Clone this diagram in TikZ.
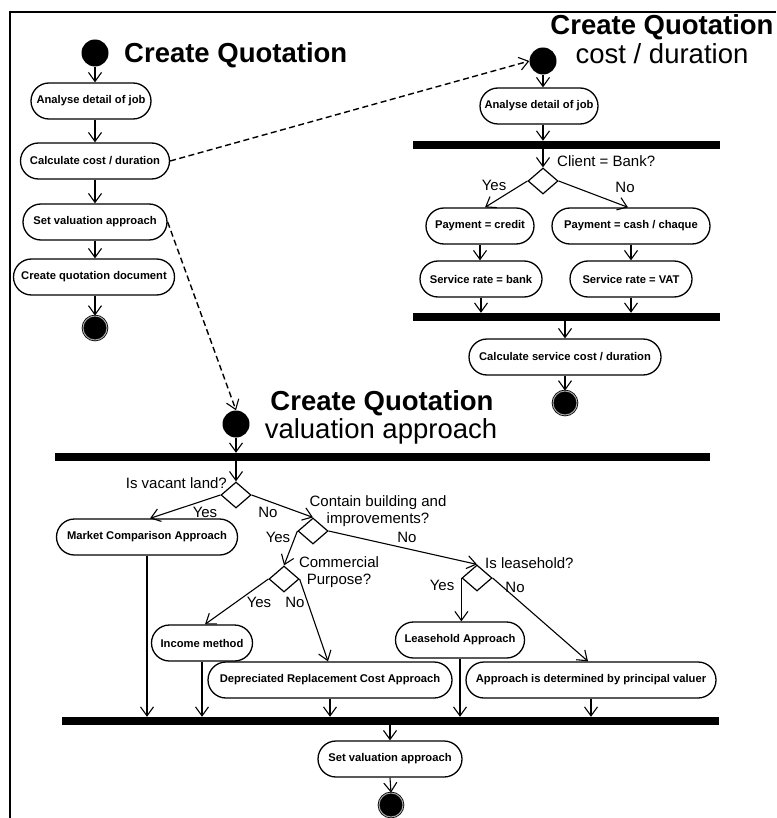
\documentclass[tikz,border=0pt]{standalone}
\usepackage{fontspec}
\setmainfont{Liberation Sans}
\usetikzlibrary{arrows.meta,shapes.geometric}

\tikzset{
  act/.style={draw, line width=1.3pt, rounded corners=18pt, minimum height=36pt,
    inner xsep=4pt, font=\fontsize{11.2}{13}\selectfont\bfseries},
  startnode/.style={circle, fill=black, minimum size=27pt, inner sep=0pt},
  endnode/.style={circle, fill=black, draw=black, line width=0.8pt, double=gray!70,
    double distance=1pt, minimum size=24pt, inner sep=0pt},
  syncbar/.style={fill=black, minimum height=8pt, inner sep=0pt},
  decision/.style={diamond, draw, line width=1.2pt, minimum width=30pt,
    minimum height=26pt, inner sep=0pt},
  flow/.style={line width=1.1pt, -{Straight Barb[length=9pt,width=13pt,line width=1.1pt]}},
  link/.style={flow, line width=1.4pt, dash pattern=on 6pt off 3.5pt},
  guard/.style={font=\fontsize{15}{17}\selectfont, inner sep=0pt},
  headline/.style={font=\fontsize{27.5}{30}\selectfont\bfseries, inner sep=0pt},
  subline/.style={font=\fontsize{27.5}{30}\selectfont, inner sep=0pt},
  framerule/.style={line width=2pt}
}

\begin{document}
\begin{tikzpicture}[x=1pt,y=-1pt]
\useasboundingbox (0,0) rectangle (776,818);

% outer frame
\draw[framerule] (10,818) -- (10,12) -- (776,12);

% ---- Create Quotation ----
\node[startnode] (s1) at (95,53) {};
\node[headline, anchor=base west] (t1) at (124,63) {Create Quotation};
\node[act, minimum width=120pt] (a1) at (91,101) {Analyse detail of job};
\node[act, minimum width=149pt] (cc) at (95,161) {Calculate cost / duration};
\node[act, minimum width=144pt] (sv) at (95,222) {Set valuation approach};
\node[act, minimum width=161pt] (cq) at (94,277) {Create quotation document};
\node[endnode] (e1) at (95,328) {};

\draw[flow] (s1.south) -- (s1.south |- a1.north);
\draw[flow] (cc.north |- a1.south) -- (cc.north);
\draw[flow] (cc.south) -- (cc.south |- sv.north);
\draw[flow] (sv.south) -- (sv.south |- cq.north);
\draw[flow] (e1.north |- cq.south) -- (e1.north);

% ---- Create Quotation: cost / duration ----
\node[headline, anchor=base] (t2) at (662,35) {Create Quotation};
\node[subline, anchor=base] (t2b) at (662,64) {cost / duration};
\node[startnode] (s2) at (543,61) {};
\node[act, minimum width=118pt] (an2) at (539,106) {Analyse detail of job};
\node[syncbar, minimum width=307pt] (bar1) at (566.5,145) {};
\node[decision] (d1) at (543,181) {};
\node[guard, anchor=west] (g1) at (557,161) {Client = Bank?};
\node[guard] (g1y) at (494,185) {Yes};
\node[guard] (g1n) at (625,187) {No};
\node[act, minimum width=108pt] (pc) at (480,226) {Payment = credit};
\node[act, minimum width=158pt] (pcash) at (631,226) {Payment = cash / chaque};
\node[act, minimum width=122pt] (sb) at (481,279) {Service rate = bank};
\node[act, minimum width=122pt] (sv2) at (631,279) {Service rate = VAT};
\node[syncbar, minimum width=307pt] (bar2) at (566.5,317) {};
\node[act, minimum width=192pt] (csc) at (565,357) {Calculate service cost / duration};
\node[endnode] (e2) at (565,403) {};

\draw[flow] (s2.south) -- (s2.south |- an2.north);
\draw[flow] (s2.south |- an2.south) -- (s2.south |- bar1.north);
\draw[flow] (d1.north |- bar1.south) -- (d1.north);
\draw[flow] (d1.west) -- ([xshift=5pt]pc.north);
\draw[flow] (d1.east) -- ([xshift=-3pt]pcash.north);
\draw[flow] (pc.south) -- (pc.south |- sb.north);
\draw[flow] (pcash.south) -- (pcash.south |- sv2.north);
\draw[flow] (sb.south) -- (sb.south |- bar2.north);
\draw[flow] (sv2.south) -- (sv2.south |- bar2.north);
\draw[flow] (csc.north |- bar2.south) -- (csc.north);
\draw[flow] (csc.south) -- (e2.north);

% ---- Create Quotation: valuation approach ----
\node[headline, anchor=base] (t3) at (382,410) {Create Quotation};
\node[subline, anchor=base] (t3b) at (381,438) {valuation approach};
\node[startnode] (s3) at (236,424) {};
\node[syncbar, minimum width=655pt] (bar3) at (382.5,457) {};
\node[decision] (vd) at (236,495) {};
\node[guard, anchor=east] (g2) at (227,483) {Is vacant land?};
\node[guard] (g2y) at (205,512) {Yes};
\node[guard] (g2n) at (268,512) {No};
\node[act, minimum width=181pt] (mca) at (147,537) {Market Comparison Approach};
\node[decision] (d2) at (313,531) {};
\node[guard, align=center] (g3) at (378,511) {Contain building and\\improvements?};
\node[guard] (g3y) at (278,537) {Yes};
\node[guard] (g3n) at (407,537) {No};
\node[decision] (d3) at (284,579) {};
\node[guard, align=center] (g4) at (339,572) {Commercial\\Purpose?};
\node[guard] (g4y) at (259,602) {Yes};
\node[guard] (g4n) at (295,602) {No};
\node[act, minimum width=101pt] (inc) at (202,643) {Income method};
\node[act, minimum width=244pt] (drc) at (330,680) {Depreciated Replacement Cost Approach};
\node[decision] (d4) at (477,578) {};
\node[guard, anchor=west] (g5) at (485,563) {Is leasehold?};
\node[guard] (g5y) at (442,585) {Yes};
\node[guard] (g5n) at (515,587) {No};
\node[act, minimum width=129pt] (lease) at (460,640) {Leasehold Approach};
\node[act, minimum width=250pt] (apv) at (591,680) {Approach is determined by principal valuer};
\node[syncbar, minimum width=657pt] (bar4) at (390.5,721) {};
\node[act, minimum width=144pt] (svb) at (390,759) {Set valuation approach};
\node[endnode] (e3) at (391,805) {};

\draw[flow] (s3.south) -- (s3.south |- bar3.north);
\draw[flow] (vd.north |- bar3.south) -- (vd.north);
\draw[flow] (vd.west) -- ([xshift=3pt]mca.north);
\draw[flow] (vd.east) -- (d2.north);
\draw[flow] (d2.west) -- (d3.north);
\draw[flow] (d2.east) -- (d4.north);
\draw[flow] (d3.west) -- ([xshift=3pt]inc.north);
\draw[flow] (d3.east) -- ([xshift=-2pt]drc.north);
\draw[flow] (d4.west) -- (d4.west |- lease.north);
\draw[flow] (d4.east) -- ([xshift=-3pt]apv.north);
\draw[flow] (mca.south) -- (mca.south |- bar4.north);
\draw[flow] (inc.south) -- (inc.south |- bar4.north);
\draw[flow] (drc.south) -- (drc.south |- bar4.north);
\draw[flow] (lease.south) -- (lease.south |- bar4.north);
\draw[flow] (apv.south) -- (apv.south |- bar4.north);
\draw[flow] (svb.north |- bar4.south) -- (svb.north);
\draw[flow] (svb.south) -- (e3.north);

% links between the sub-activities
\draw[link] (cc.east) -- (s2.west);
\draw[link] (sv.east) -- (s3.north);

\end{tikzpicture}
\end{document}
